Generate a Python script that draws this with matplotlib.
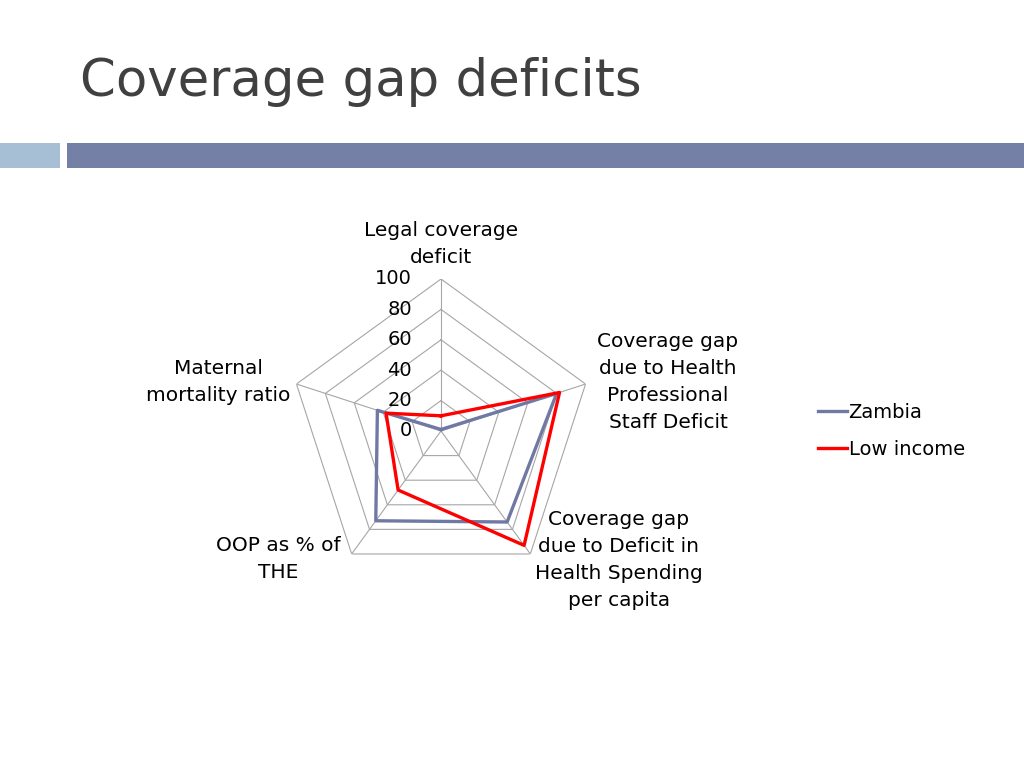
import numpy as np
import matplotlib
matplotlib.use("Agg")
import matplotlib.pyplot as plt
from matplotlib.patches import Rectangle
from matplotlib.transforms import offset_copy

# ---------------------------------------------------------------------------
# Data
# ---------------------------------------------------------------------------
categories = [
    "Legal coverage\ndeficit",
    "Coverage gap\ndue to Health\nProfessional\nStaff Deficit",
    "Coverage gap\ndue to Deficit in\nHealth Spending\nper capita",
    "OOP as % of\nTHE",
    "Maternal\nmortality ratio",
]
zambia = [1, 80, 74, 73, 44]
low_income = [10, 82, 93, 48, 38]
rings = [20, 40, 60, 80, 100]
tick_labels = ["0", "20", "40", "60", "80", "100"]

W, H = 1024, 768
fig = plt.figure(figsize=(W / 100, H / 100), dpi=100)
fig.patch.set_facecolor("white")

# title and header bar
fig.text(80 / W, 1 - 82 / H, "Coverage gap deficits", fontsize=37, color="#404040",
         ha="left", va="center", family="DejaVu Sans")
fig.patches.append(Rectangle((0, 1 - 168 / H), 60 / W, 25 / H, transform=fig.transFigure,
                             facecolor="#A7BFD4", edgecolor="none"))
fig.patches.append(Rectangle((67 / W, 1 - 168 / H), 1 - 67 / W, 25 / H,
                             transform=fig.transFigure, facecolor="#7480A6", edgecolor="none"))

# radar axes
cx, cy, R = 441, 431, 152
ax = fig.add_axes([(cx - R) / W, (H - cy - R) / H, 2 * R / W, 2 * R / H], polar=True)
ax.set_theta_zero_location("N")
ax.set_theta_direction(-1)
ax.set_ylim(0, 100)
ax.grid(False)
ax.spines["polar"].set_visible(False)
ax.set_xticks([])
ax.set_yticks([])
ax.patch.set_alpha(0)

n = len(categories)
theta = np.linspace(0, 2 * np.pi, n, endpoint=False)
theta_closed = np.append(theta, theta[0])

grid_kw = dict(color="#A6A6A6", linewidth=0.8, zorder=1)
for r in rings:
    ax.plot(theta_closed, [r] * (n + 1), **grid_kw)
for t in theta:
    ax.plot([t, t], [0, 100], **grid_kw)

ax.plot(theta_closed, zambia + zambia[:1], color="#7078A4", linewidth=2.4,
        label="Zambia", zorder=3)
ax.plot(theta_closed, low_income + low_income[:1], color="#FF0000", linewidth=2.4,
        label="Low income", zorder=4)

# radial tick labels to the left of the top spoke
tick_tr = offset_copy(ax.transData, fig=fig, x=-29, y=0, units="dots")
for r, lab in zip([0] + rings, tick_labels):
    ax.text(0, r, lab, transform=tick_tr, ha="right", va="center", fontsize=14,
            color="black", clip_on=False)

# category labels
label_pos = [(441, 244), (668, 382), (619, 560), (278, 559), (218, 382)]
for (px, py), lab in zip(label_pos, categories):
    fig.text(px / W, 1 - py / H, lab, ha="center", va="center", fontsize=14.5,
             linespacing=1.55, color="black")

fig.legend(loc="center left", bbox_to_anchor=(800 / W, 1 - 431 / H), frameon=False,
           fontsize=14, handlelength=1.5, handletextpad=0.1, labelspacing=0.95)

fig.savefig("out.png", dpi=100)
